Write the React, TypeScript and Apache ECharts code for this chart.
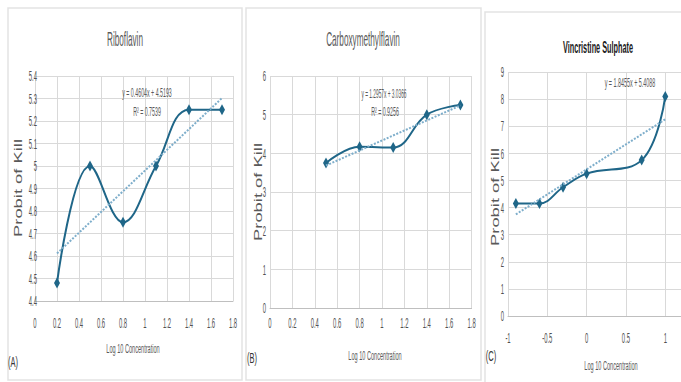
import React, { useEffect, useRef } from "react";
import * as echarts from "echarts";

const ribX = [0.2, 0.5, 0.8, 1.1, 1.4, 1.7];
const ribY = [4.48, 5.0, 4.75, 5.0, 5.25, 5.25];
const cmfX = [0.5, 0.8, 1.1, 1.4, 1.7];
const cmfY = [3.75, 4.17, 4.15, 5.0, 5.25];
const vinX = [-0.9, -0.6, -0.3, 0, 0.7, 1.0];
const vinY = [4.15, 4.15, 4.75, 5.25, 5.75, 8.1];
const trendSlope = [0.4604, 1.2957, 1.8455];
const trendIntercept = [4.5193, 3.0366, 5.4088];

const xTicksA = [0, 0.2, 0.4, 0.6, 0.8, 1, 1.2, 1.4, 1.6, 1.8];
const yTicksA = [4.4, 4.5, 4.6, 4.7, 4.8, 4.9, 5, 5.1, 5.2, 5.3, 5.4];
const xTicksB = [0, 0.2, 0.4, 0.6, 0.8, 1, 1.2, 1.4, 1.6, 1.8];
const yTicksB = [0, 1, 2, 3, 4, 5, 6];
const xTicksC = [-1, -0.5, 0, 0.5, 1];
const yTicksC = [0, 1, 2, 3, 4, 5, 6, 7, 8, 9];

const titles = ["Riboflavin", "Carboxymethylflavin", "Vincristine Sulphate"];
const equations = ["y = 0.4604x + 4.5193", "y = 1.2957x + 3.0366", "y = 1.8455x + 5.4088"];
const rSquared = ["R² = 0.7539", "R² = 0.9256"];
const panelLabels = ["(A)", "(B)", "(C)"];
const xName = "Log 10 Concentration";
const yName = "Probit of Kill";

const LINE = "#1f6688";
const TREND = "#7eaecb";
const GRID = "#d9d9d9";
const TXT = "#595959";

function pairs(xs: number[], ys: number[]) {
  return xs.map((x, i) => [x, ys[i]]);
}
function trend(xs: number[], k: number) {
  const a = xs[0];
  const b = xs[xs.length - 1];
  return [
    [a, trendSlope[k] * a + trendIntercept[k]],
    [b, trendSlope[k] * b + trendIntercept[k]],
  ];
}

const grids = [
  { left: 35, top: 76, width: 198, height: 225 },
  { left: 270, top: 76, width: 201.6, height: 232 },
  { left: 508, top: 72, width: 173, height: 244 },
];

function sq(
  text: string,
  x: number,
  y: number,
  size: number,
  scaleX: number,
  fill = TXT,
  weight = "normal",
  rotation = 0,
  align = "center"
) {
  return {
    type: "text",
    x,
    y,
    scaleX,
    rotation,
    z: 10,
    style: {
      text,
      fill,
      font: `${weight} ${size}px 'Liberation Sans', Arial, sans-serif`,
      align,
      verticalAlign: "middle",
      textAlign: align,
      textVerticalAlign: "middle",
    },
  };
}

export default function App() {
  const ref = useRef<HTMLDivElement>(null);
  useEffect(() => {
    if (!ref.current) return;
    const chart = echarts.init(ref.current, null, { renderer: "svg" });
    const xAxisCommon = {
      type: "value",
      axisLine: { show: true, lineStyle: { color: "#bfbfbf", width: 1 } },
      axisTick: { show: false },
      splitLine: { show: true, lineStyle: { color: GRID, width: 1 } },
      axisLabel: { show: false },
    };
    const yAxisCommon = {
      type: "value",
      axisLine: { show: false },
      axisTick: { show: false },
      splitLine: { show: true, lineStyle: { color: GRID, width: 1 } },
      axisLabel: { show: false },
    };
    const mainSeries = (i: number, data: number[][]) => ({
      type: "line",
      xAxisIndex: i,
      yAxisIndex: i,
      data,
      smooth: 0.4,
      symbol: "diamond",
      symbolSize: [6, 11],
      itemStyle: { color: LINE },
      lineStyle: { color: LINE, width: 2 },
      z: 3,
    });
    const trendSeries = (i: number, data: number[][]) => ({
      type: "line",
      xAxisIndex: i,
      yAxisIndex: i,
      data,
      symbol: "none",
      lineStyle: { color: TREND, width: 2, type: [2, 1.5] },
      z: 4,
    });
    const option: any = {
      animation: false,
      backgroundColor: "#ffffff",
      grid: grids.map((g) => ({ ...g, containLabel: false })),
      xAxis: [
        { ...xAxisCommon, gridIndex: 0, min: 0, max: 1.8, interval: 0.2 },
        { ...xAxisCommon, gridIndex: 1, min: 0, max: 1.8, interval: 0.2 },
        { ...xAxisCommon, gridIndex: 2, min: -1, max: 1.2, interval: 0.5 },
      ],
      yAxis: [
        { ...yAxisCommon, gridIndex: 0, min: 4.4, max: 5.4, interval: 0.1 },
        { ...yAxisCommon, gridIndex: 1, min: 0, max: 6, interval: 1 },
        { ...yAxisCommon, gridIndex: 2, min: 0, max: 9, interval: 1 },
      ],
      series: [
        trendSeries(0, trend(ribX, 0)),
        mainSeries(0, pairs(ribX, ribY)),
        trendSeries(1, trend(cmfX, 1)),
        mainSeries(1, pairs(cmfX, cmfY)),
        trendSeries(2, trend(vinX, 2)),
        mainSeries(2, pairs(vinX, vinY)),
      ],
    };
    chart.setOption(option);

    const tickSets = [
      { xs: xTicksA, ys: yTicksA, xLabelY: 323, yLabelRight: 37 },
      { xs: xTicksB, ys: yTicksB, xLabelY: 323, yLabelRight: 266 },
      { xs: xTicksC, ys: yTicksC, xLabelY: 338, yLabelRight: 504 },
    ];
    const tickTexts: any[] = [];
    tickSets.forEach((t, i) => {
      t.xs.forEach((v) => {
        const px = chart.convertToPixel({ xAxisIndex: i } as any, v) as unknown as number;
        tickTexts.push(sq(String(v), px, t.xLabelY, 14, 0.42, "#505050"));
      });
      t.ys.forEach((v) => {
        const py = chart.convertToPixel({ yAxisIndex: i } as any, v) as unknown as number;
        tickTexts.push(sq(String(v), t.yLabelRight, py, 14, 0.42, "#505050", "normal", 0, "right"));
      });
    });

    chart.setOption({
      graphic: [
        { type: "rect", shape: { x: 8, y: 8, width: 234, height: 372 }, style: { fill: "none", stroke: "#e3e3e3", lineWidth: 1.5 }, z: 0 },
        { type: "rect", shape: { x: 246, y: 8, width: 235, height: 372 }, style: { fill: "none", stroke: "#e3e3e3", lineWidth: 1.5 }, z: 0 },
        { type: "rect", shape: { x: 485, y: 12, width: 220, height: 380 }, style: { fill: "none", stroke: "#e3e3e3", lineWidth: 1.5 }, z: 0 },
        sq(titles[0], 125, 39, 20, 0.41),
        sq(titles[1], 363, 39, 20, 0.41),
        sq(titles[2], 598, 47, 17, 0.43, "#1a1a1a", "bold"),
        sq(equations[0], 147, 93, 12, 0.44),
        sq(rSquared[0], 147, 112, 12, 0.44),
        sq(equations[1], 384, 94, 12, 0.4),
        sq(rSquared[1], 385, 112, 12, 0.44),
        sq(equations[2], 630, 83, 12, 0.45),
        sq(xName, 133, 348, 13, 0.43),
        sq(xName, 375, 355, 13, 0.43),
        sq(xName, 611, 365, 13, 0.43),
        sq(yName, 18, 188, 10.5, 1.75, TXT, "normal", Math.PI / 2),
        sq(yName, 258, 192, 10.5, 1.75, TXT, "normal", Math.PI / 2),
        sq(yName, 495, 197, 10.5, 1.75, TXT, "normal", Math.PI / 2),
        sq(panelLabels[0], 13, 362, 15, 0.5, "#333333"),
        sq(panelLabels[1], 252, 358, 15, 0.5, "#333333"),
        sq(panelLabels[2], 491, 356, 15, 0.5, "#333333"),
        ...tickTexts,
      ],
    });
    return () => chart.dispose();
  }, []);
  return (
    <div
      ref={ref}
      style={{ position: "fixed", left: 0, top: 0, width: 681, height: 382, overflow: "hidden" }}
    />
  );
}
